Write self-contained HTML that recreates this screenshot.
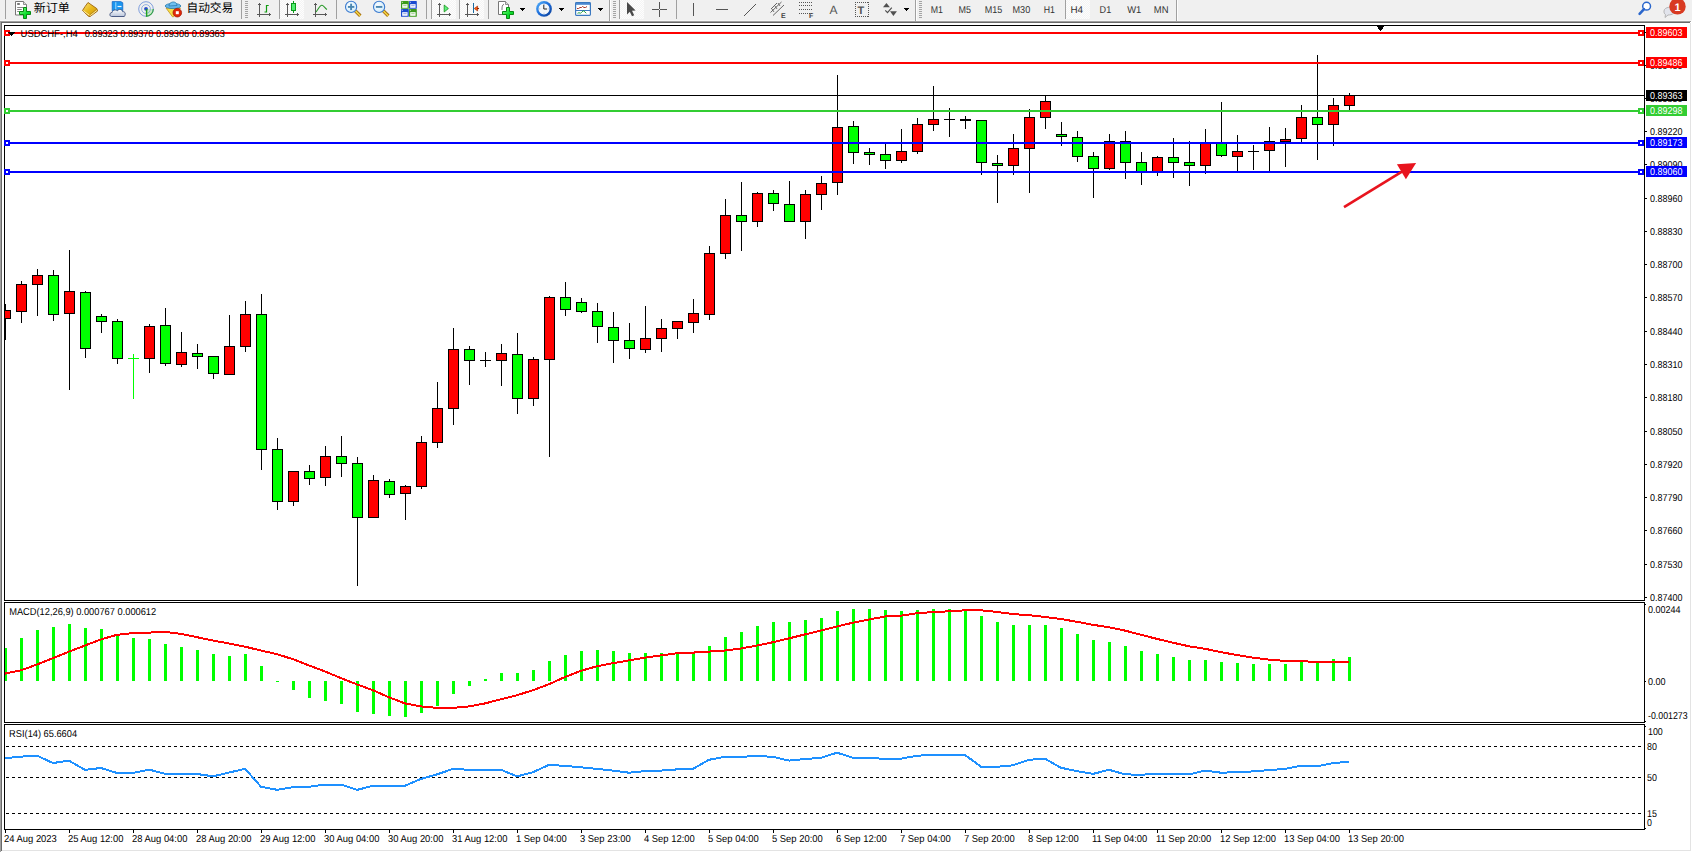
<!DOCTYPE html>
<html><head><meta charset="utf-8"><title>MetaTrader USDCHF H4</title>
<style>
html,body{margin:0;padding:0;width:1692px;height:852px;overflow:hidden;background:#fff}
svg{display:block}
text{font-family:"Liberation Sans","Noto Sans CJK SC",sans-serif;text-rendering:geometricPrecision}
.cjk{font-family:"Liberation Sans","Noto Sans CJK SC",sans-serif}
</style></head><body>
<svg width="1692" height="852" viewBox="0 0 1692 852" shape-rendering="crispEdges">
<rect x="0" y="0" width="1692" height="852" fill="#ffffff"/>
<rect x="0" y="0" width="1692" height="21" fill="#f0f0f0"/>
<rect x="0" y="20" width="1692" height="1" fill="#f7f7f7"/>
<rect x="0" y="21" width="1691" height="1" fill="#a0a0a0"/>
<rect x="0" y="22" width="1690" height="1" fill="#696969"/>
<rect x="0" y="21" width="1" height="831" fill="#a0a0a0"/>
<rect x="1" y="22" width="1" height="829" fill="#696969"/>
<rect x="1690" y="23" width="1" height="828" fill="#e3e3e3"/>
<rect x="2" y="850" width="1689" height="1" fill="#e3e3e3"/>
<defs><clipPath id="cm"><rect x="5" y="26" width="1639" height="574"/></clipPath><clipPath id="cd"><rect x="5" y="603" width="1639" height="119"/></clipPath><clipPath id="cr"><rect x="5" y="725" width="1639" height="104"/></clipPath></defs>
<g clip-path="url(#cm)">
<rect x="5" y="304" width="1" height="36" fill="#000"/>
<rect x="0" y="310" width="11" height="9" fill="#000"/>
<rect x="1" y="311" width="9" height="7" fill="#ff0000"/>
<rect x="21" y="281" width="1" height="42" fill="#000"/>
<rect x="16" y="284" width="11" height="28" fill="#000"/>
<rect x="17" y="285" width="9" height="26" fill="#ff0000"/>
<rect x="37" y="269" width="1" height="47" fill="#000"/>
<rect x="32" y="275" width="11" height="10" fill="#000"/>
<rect x="33" y="276" width="9" height="8" fill="#ff0000"/>
<rect x="53" y="270" width="1" height="51" fill="#000"/>
<rect x="48" y="275" width="11" height="40" fill="#000"/>
<rect x="49" y="276" width="9" height="38" fill="#00ff00"/>
<rect x="69" y="250" width="1" height="140" fill="#000"/>
<rect x="64" y="291" width="11" height="23" fill="#000"/>
<rect x="65" y="292" width="9" height="21" fill="#ff0000"/>
<rect x="85" y="291" width="1" height="67" fill="#000"/>
<rect x="80" y="292" width="11" height="57" fill="#000"/>
<rect x="81" y="293" width="9" height="55" fill="#00ff00"/>
<rect x="101" y="314" width="1" height="19" fill="#000"/>
<rect x="96" y="316" width="11" height="6" fill="#000"/>
<rect x="97" y="317" width="9" height="4" fill="#00ff00"/>
<rect x="117" y="319" width="1" height="45" fill="#000"/>
<rect x="112" y="321" width="11" height="38" fill="#000"/>
<rect x="113" y="322" width="9" height="36" fill="#00ff00"/>
<rect x="133" y="354" width="1" height="45" fill="#00ff00"/>
<rect x="128" y="358" width="11" height="1" fill="#00ff00"/>
<rect x="149" y="324" width="1" height="49" fill="#000"/>
<rect x="144" y="326" width="11" height="33" fill="#000"/>
<rect x="145" y="327" width="9" height="31" fill="#ff0000"/>
<rect x="165" y="308" width="1" height="58" fill="#000"/>
<rect x="160" y="325" width="11" height="39" fill="#000"/>
<rect x="161" y="326" width="9" height="37" fill="#00ff00"/>
<rect x="181" y="332" width="1" height="35" fill="#000"/>
<rect x="176" y="352" width="11" height="13" fill="#000"/>
<rect x="177" y="353" width="9" height="11" fill="#ff0000"/>
<rect x="197" y="344" width="1" height="25" fill="#000"/>
<rect x="192" y="353" width="11" height="4" fill="#000"/>
<rect x="193" y="354" width="9" height="2" fill="#00ff00"/>
<rect x="213" y="356" width="1" height="23" fill="#000"/>
<rect x="208" y="356" width="11" height="18" fill="#000"/>
<rect x="209" y="357" width="9" height="16" fill="#00ff00"/>
<rect x="229" y="315" width="1" height="59" fill="#000"/>
<rect x="224" y="346" width="11" height="29" fill="#000"/>
<rect x="225" y="347" width="9" height="27" fill="#ff0000"/>
<rect x="245" y="301" width="1" height="51" fill="#000"/>
<rect x="240" y="314" width="11" height="33" fill="#000"/>
<rect x="241" y="315" width="9" height="31" fill="#ff0000"/>
<rect x="261" y="294" width="1" height="176" fill="#000"/>
<rect x="256" y="314" width="11" height="136" fill="#000"/>
<rect x="257" y="315" width="9" height="134" fill="#00ff00"/>
<rect x="277" y="438" width="1" height="72" fill="#000"/>
<rect x="272" y="449" width="11" height="53" fill="#000"/>
<rect x="273" y="450" width="9" height="51" fill="#00ff00"/>
<rect x="293" y="471" width="1" height="35" fill="#000"/>
<rect x="288" y="471" width="11" height="31" fill="#000"/>
<rect x="289" y="472" width="9" height="29" fill="#ff0000"/>
<rect x="309" y="465" width="1" height="20" fill="#000"/>
<rect x="304" y="471" width="11" height="8" fill="#000"/>
<rect x="305" y="472" width="9" height="6" fill="#00ff00"/>
<rect x="325" y="446" width="1" height="40" fill="#000"/>
<rect x="320" y="456" width="11" height="22" fill="#000"/>
<rect x="321" y="457" width="9" height="20" fill="#ff0000"/>
<rect x="341" y="436" width="1" height="41" fill="#000"/>
<rect x="336" y="456" width="11" height="8" fill="#000"/>
<rect x="337" y="457" width="9" height="6" fill="#00ff00"/>
<rect x="357" y="457" width="1" height="129" fill="#000"/>
<rect x="352" y="463" width="11" height="55" fill="#000"/>
<rect x="353" y="464" width="9" height="53" fill="#00ff00"/>
<rect x="373" y="475" width="1" height="42" fill="#000"/>
<rect x="368" y="480" width="11" height="38" fill="#000"/>
<rect x="369" y="481" width="9" height="36" fill="#ff0000"/>
<rect x="389" y="479" width="1" height="19" fill="#000"/>
<rect x="384" y="481" width="11" height="14" fill="#000"/>
<rect x="385" y="482" width="9" height="12" fill="#00ff00"/>
<rect x="405" y="485" width="1" height="35" fill="#000"/>
<rect x="400" y="486" width="11" height="8" fill="#000"/>
<rect x="401" y="487" width="9" height="6" fill="#ff0000"/>
<rect x="421" y="436" width="1" height="53" fill="#000"/>
<rect x="416" y="442" width="11" height="45" fill="#000"/>
<rect x="417" y="443" width="9" height="43" fill="#ff0000"/>
<rect x="437" y="382" width="1" height="66" fill="#000"/>
<rect x="432" y="408" width="11" height="35" fill="#000"/>
<rect x="433" y="409" width="9" height="33" fill="#ff0000"/>
<rect x="453" y="328" width="1" height="97" fill="#000"/>
<rect x="448" y="349" width="11" height="60" fill="#000"/>
<rect x="449" y="350" width="9" height="58" fill="#ff0000"/>
<rect x="469" y="346" width="1" height="39" fill="#000"/>
<rect x="464" y="349" width="11" height="12" fill="#000"/>
<rect x="465" y="350" width="9" height="10" fill="#00ff00"/>
<rect x="485" y="352" width="1" height="15" fill="#000"/>
<rect x="480" y="360" width="11" height="1" fill="#000"/>
<rect x="501" y="344" width="1" height="42" fill="#000"/>
<rect x="496" y="353" width="11" height="8" fill="#000"/>
<rect x="497" y="354" width="9" height="6" fill="#ff0000"/>
<rect x="517" y="333" width="1" height="81" fill="#000"/>
<rect x="512" y="354" width="11" height="45" fill="#000"/>
<rect x="513" y="355" width="9" height="43" fill="#00ff00"/>
<rect x="533" y="357" width="1" height="49" fill="#000"/>
<rect x="528" y="359" width="11" height="40" fill="#000"/>
<rect x="529" y="360" width="9" height="38" fill="#ff0000"/>
<rect x="549" y="296" width="1" height="161" fill="#000"/>
<rect x="544" y="297" width="11" height="63" fill="#000"/>
<rect x="545" y="298" width="9" height="61" fill="#ff0000"/>
<rect x="565" y="282" width="1" height="34" fill="#000"/>
<rect x="560" y="297" width="11" height="13" fill="#000"/>
<rect x="561" y="298" width="9" height="11" fill="#00ff00"/>
<rect x="581" y="298" width="1" height="15" fill="#000"/>
<rect x="576" y="302" width="11" height="10" fill="#000"/>
<rect x="577" y="303" width="9" height="8" fill="#00ff00"/>
<rect x="597" y="303" width="1" height="40" fill="#000"/>
<rect x="592" y="311" width="11" height="16" fill="#000"/>
<rect x="593" y="312" width="9" height="14" fill="#00ff00"/>
<rect x="613" y="312" width="1" height="51" fill="#000"/>
<rect x="608" y="327" width="11" height="14" fill="#000"/>
<rect x="609" y="328" width="9" height="12" fill="#00ff00"/>
<rect x="629" y="323" width="1" height="36" fill="#000"/>
<rect x="624" y="340" width="11" height="9" fill="#000"/>
<rect x="625" y="341" width="9" height="7" fill="#00ff00"/>
<rect x="645" y="306" width="1" height="47" fill="#000"/>
<rect x="640" y="338" width="11" height="12" fill="#000"/>
<rect x="641" y="339" width="9" height="10" fill="#ff0000"/>
<rect x="661" y="319" width="1" height="33" fill="#000"/>
<rect x="656" y="328" width="11" height="11" fill="#000"/>
<rect x="657" y="329" width="9" height="9" fill="#ff0000"/>
<rect x="677" y="321" width="1" height="18" fill="#000"/>
<rect x="672" y="321" width="11" height="8" fill="#000"/>
<rect x="673" y="322" width="9" height="6" fill="#ff0000"/>
<rect x="693" y="299" width="1" height="34" fill="#000"/>
<rect x="688" y="313" width="11" height="10" fill="#000"/>
<rect x="689" y="314" width="9" height="8" fill="#ff0000"/>
<rect x="709" y="246" width="1" height="74" fill="#000"/>
<rect x="704" y="253" width="11" height="62" fill="#000"/>
<rect x="705" y="254" width="9" height="60" fill="#ff0000"/>
<rect x="725" y="199" width="1" height="60" fill="#000"/>
<rect x="720" y="215" width="11" height="39" fill="#000"/>
<rect x="721" y="216" width="9" height="37" fill="#ff0000"/>
<rect x="741" y="182" width="1" height="69" fill="#000"/>
<rect x="736" y="215" width="11" height="7" fill="#000"/>
<rect x="737" y="216" width="9" height="5" fill="#00ff00"/>
<rect x="757" y="192" width="1" height="35" fill="#000"/>
<rect x="752" y="193" width="11" height="29" fill="#000"/>
<rect x="753" y="194" width="9" height="27" fill="#ff0000"/>
<rect x="773" y="190" width="1" height="21" fill="#000"/>
<rect x="768" y="193" width="11" height="11" fill="#000"/>
<rect x="769" y="194" width="9" height="9" fill="#00ff00"/>
<rect x="789" y="181" width="1" height="41" fill="#000"/>
<rect x="784" y="204" width="11" height="18" fill="#000"/>
<rect x="785" y="205" width="9" height="16" fill="#00ff00"/>
<rect x="805" y="190" width="1" height="49" fill="#000"/>
<rect x="800" y="194" width="11" height="28" fill="#000"/>
<rect x="801" y="195" width="9" height="26" fill="#ff0000"/>
<rect x="821" y="176" width="1" height="34" fill="#000"/>
<rect x="816" y="183" width="11" height="12" fill="#000"/>
<rect x="817" y="184" width="9" height="10" fill="#ff0000"/>
<rect x="837" y="75" width="1" height="120" fill="#000"/>
<rect x="832" y="127" width="11" height="56" fill="#000"/>
<rect x="833" y="128" width="9" height="54" fill="#ff0000"/>
<rect x="853" y="121" width="1" height="43" fill="#000"/>
<rect x="848" y="126" width="11" height="27" fill="#000"/>
<rect x="849" y="127" width="9" height="25" fill="#00ff00"/>
<rect x="869" y="148" width="1" height="17" fill="#000"/>
<rect x="864" y="152" width="11" height="3" fill="#000"/>
<rect x="865" y="153" width="9" height="1" fill="#00ff00"/>
<rect x="885" y="144" width="1" height="25" fill="#000"/>
<rect x="880" y="154" width="11" height="7" fill="#000"/>
<rect x="881" y="155" width="9" height="5" fill="#00ff00"/>
<rect x="901" y="129" width="1" height="34" fill="#000"/>
<rect x="896" y="151" width="11" height="10" fill="#000"/>
<rect x="897" y="152" width="9" height="8" fill="#ff0000"/>
<rect x="917" y="118" width="1" height="36" fill="#000"/>
<rect x="912" y="124" width="11" height="28" fill="#000"/>
<rect x="913" y="125" width="9" height="26" fill="#ff0000"/>
<rect x="933" y="86" width="1" height="45" fill="#000"/>
<rect x="928" y="119" width="11" height="6" fill="#000"/>
<rect x="929" y="120" width="9" height="4" fill="#ff0000"/>
<rect x="949" y="108" width="1" height="29" fill="#000"/>
<rect x="944" y="119" width="11" height="1" fill="#000"/>
<rect x="965" y="116" width="1" height="13" fill="#000"/>
<rect x="960" y="119" width="11" height="2" fill="#000"/>
<rect x="981" y="120" width="1" height="55" fill="#000"/>
<rect x="976" y="120" width="11" height="43" fill="#000"/>
<rect x="977" y="121" width="9" height="41" fill="#00ff00"/>
<rect x="997" y="155" width="1" height="48" fill="#000"/>
<rect x="992" y="163" width="11" height="3" fill="#000"/>
<rect x="993" y="164" width="9" height="1" fill="#00ff00"/>
<rect x="1013" y="134" width="1" height="41" fill="#000"/>
<rect x="1008" y="148" width="11" height="18" fill="#000"/>
<rect x="1009" y="149" width="9" height="16" fill="#ff0000"/>
<rect x="1029" y="109" width="1" height="84" fill="#000"/>
<rect x="1024" y="117" width="11" height="32" fill="#000"/>
<rect x="1025" y="118" width="9" height="30" fill="#ff0000"/>
<rect x="1045" y="96" width="1" height="33" fill="#000"/>
<rect x="1040" y="101" width="11" height="17" fill="#000"/>
<rect x="1041" y="102" width="9" height="15" fill="#ff0000"/>
<rect x="1061" y="122" width="1" height="24" fill="#000"/>
<rect x="1056" y="134" width="11" height="3" fill="#000"/>
<rect x="1057" y="135" width="9" height="1" fill="#00ff00"/>
<rect x="1077" y="131" width="1" height="31" fill="#000"/>
<rect x="1072" y="137" width="11" height="20" fill="#000"/>
<rect x="1073" y="138" width="9" height="18" fill="#00ff00"/>
<rect x="1093" y="152" width="1" height="46" fill="#000"/>
<rect x="1088" y="156" width="11" height="13" fill="#000"/>
<rect x="1089" y="157" width="9" height="11" fill="#00ff00"/>
<rect x="1109" y="134" width="1" height="36" fill="#000"/>
<rect x="1104" y="141" width="11" height="28" fill="#000"/>
<rect x="1105" y="142" width="9" height="26" fill="#ff0000"/>
<rect x="1125" y="131" width="1" height="48" fill="#000"/>
<rect x="1120" y="141" width="11" height="22" fill="#000"/>
<rect x="1121" y="142" width="9" height="20" fill="#00ff00"/>
<rect x="1141" y="152" width="1" height="33" fill="#000"/>
<rect x="1136" y="162" width="11" height="10" fill="#000"/>
<rect x="1137" y="163" width="9" height="8" fill="#00ff00"/>
<rect x="1157" y="156" width="1" height="20" fill="#000"/>
<rect x="1152" y="157" width="11" height="15" fill="#000"/>
<rect x="1153" y="158" width="9" height="13" fill="#ff0000"/>
<rect x="1173" y="138" width="1" height="40" fill="#000"/>
<rect x="1168" y="157" width="11" height="6" fill="#000"/>
<rect x="1169" y="158" width="9" height="4" fill="#00ff00"/>
<rect x="1189" y="141" width="1" height="45" fill="#000"/>
<rect x="1184" y="162" width="11" height="4" fill="#000"/>
<rect x="1185" y="163" width="9" height="2" fill="#00ff00"/>
<rect x="1205" y="129" width="1" height="45" fill="#000"/>
<rect x="1200" y="143" width="11" height="23" fill="#000"/>
<rect x="1201" y="144" width="9" height="21" fill="#ff0000"/>
<rect x="1221" y="102" width="1" height="55" fill="#000"/>
<rect x="1216" y="143" width="11" height="13" fill="#000"/>
<rect x="1217" y="144" width="9" height="11" fill="#00ff00"/>
<rect x="1237" y="135" width="1" height="36" fill="#000"/>
<rect x="1232" y="151" width="11" height="6" fill="#000"/>
<rect x="1233" y="152" width="9" height="4" fill="#ff0000"/>
<rect x="1253" y="145" width="1" height="25" fill="#000"/>
<rect x="1248" y="151" width="11" height="1" fill="#000"/>
<rect x="1269" y="127" width="1" height="44" fill="#000"/>
<rect x="1264" y="141" width="11" height="10" fill="#000"/>
<rect x="1265" y="142" width="9" height="8" fill="#ff0000"/>
<rect x="1285" y="128" width="1" height="39" fill="#000"/>
<rect x="1280" y="139" width="11" height="3" fill="#000"/>
<rect x="1281" y="140" width="9" height="1" fill="#ff0000"/>
<rect x="1301" y="105" width="1" height="37" fill="#000"/>
<rect x="1296" y="117" width="11" height="22" fill="#000"/>
<rect x="1297" y="118" width="9" height="20" fill="#ff0000"/>
<rect x="1317" y="55" width="1" height="105" fill="#000"/>
<rect x="1312" y="117" width="11" height="8" fill="#000"/>
<rect x="1313" y="118" width="9" height="6" fill="#00ff00"/>
<rect x="1333" y="98" width="1" height="48" fill="#000"/>
<rect x="1328" y="105" width="11" height="20" fill="#000"/>
<rect x="1329" y="106" width="9" height="18" fill="#ff0000"/>
<rect x="1349" y="93" width="1" height="17" fill="#000"/>
<rect x="1344" y="95" width="11" height="11" fill="#000"/>
<rect x="1345" y="96" width="9" height="9" fill="#ff0000"/>
<rect x="5" y="32" width="1639" height="2" fill="#ff0000"/>
<rect x="5" y="62" width="1639" height="2" fill="#ff0000"/>
<rect x="5" y="95" width="1639" height="1" fill="#000000"/>
<rect x="5" y="110" width="1639" height="2" fill="#32cd32"/>
<rect x="5" y="142" width="1639" height="2" fill="#0000ff"/>
<rect x="5" y="171" width="1639" height="2" fill="#0000ff"/>
</g>
<g clip-path="url(#cd)">
<rect x="4" y="648" width="3" height="33" fill="#00ff00"/>
<rect x="20" y="638" width="3" height="43" fill="#00ff00"/>
<rect x="36" y="630" width="3" height="51" fill="#00ff00"/>
<rect x="52" y="627" width="3" height="54" fill="#00ff00"/>
<rect x="68" y="624" width="3" height="57" fill="#00ff00"/>
<rect x="84" y="628" width="3" height="53" fill="#00ff00"/>
<rect x="100" y="629" width="3" height="52" fill="#00ff00"/>
<rect x="116" y="634" width="3" height="47" fill="#00ff00"/>
<rect x="132" y="638" width="3" height="43" fill="#00ff00"/>
<rect x="148" y="639" width="3" height="42" fill="#00ff00"/>
<rect x="164" y="644" width="3" height="37" fill="#00ff00"/>
<rect x="180" y="647" width="3" height="34" fill="#00ff00"/>
<rect x="196" y="650" width="3" height="31" fill="#00ff00"/>
<rect x="212" y="654" width="3" height="27" fill="#00ff00"/>
<rect x="228" y="656" width="3" height="25" fill="#00ff00"/>
<rect x="244" y="654" width="3" height="27" fill="#00ff00"/>
<rect x="260" y="666" width="3" height="15" fill="#00ff00"/>
<rect x="276" y="681" width="3" height="1" fill="#00ff00"/>
<rect x="292" y="681" width="3" height="9" fill="#00ff00"/>
<rect x="308" y="681" width="3" height="17" fill="#00ff00"/>
<rect x="324" y="681" width="3" height="20" fill="#00ff00"/>
<rect x="340" y="681" width="3" height="23" fill="#00ff00"/>
<rect x="356" y="681" width="3" height="31" fill="#00ff00"/>
<rect x="372" y="681" width="3" height="33" fill="#00ff00"/>
<rect x="388" y="681" width="3" height="35" fill="#00ff00"/>
<rect x="404" y="681" width="3" height="36" fill="#00ff00"/>
<rect x="420" y="681" width="3" height="32" fill="#00ff00"/>
<rect x="436" y="681" width="3" height="25" fill="#00ff00"/>
<rect x="452" y="681" width="3" height="13" fill="#00ff00"/>
<rect x="468" y="681" width="3" height="5" fill="#00ff00"/>
<rect x="484" y="679" width="3" height="2" fill="#00ff00"/>
<rect x="500" y="673" width="3" height="8" fill="#00ff00"/>
<rect x="516" y="673" width="3" height="8" fill="#00ff00"/>
<rect x="532" y="670" width="3" height="11" fill="#00ff00"/>
<rect x="548" y="661" width="3" height="20" fill="#00ff00"/>
<rect x="564" y="655" width="3" height="26" fill="#00ff00"/>
<rect x="580" y="651" width="3" height="30" fill="#00ff00"/>
<rect x="596" y="650" width="3" height="31" fill="#00ff00"/>
<rect x="612" y="651" width="3" height="30" fill="#00ff00"/>
<rect x="628" y="653" width="3" height="28" fill="#00ff00"/>
<rect x="644" y="653" width="3" height="28" fill="#00ff00"/>
<rect x="660" y="653" width="3" height="28" fill="#00ff00"/>
<rect x="676" y="653" width="3" height="28" fill="#00ff00"/>
<rect x="692" y="653" width="3" height="28" fill="#00ff00"/>
<rect x="708" y="646" width="3" height="35" fill="#00ff00"/>
<rect x="724" y="637" width="3" height="44" fill="#00ff00"/>
<rect x="740" y="632" width="3" height="49" fill="#00ff00"/>
<rect x="756" y="626" width="3" height="55" fill="#00ff00"/>
<rect x="772" y="622" width="3" height="59" fill="#00ff00"/>
<rect x="788" y="622" width="3" height="59" fill="#00ff00"/>
<rect x="804" y="620" width="3" height="61" fill="#00ff00"/>
<rect x="820" y="618" width="3" height="63" fill="#00ff00"/>
<rect x="836" y="611" width="3" height="70" fill="#00ff00"/>
<rect x="852" y="609" width="3" height="72" fill="#00ff00"/>
<rect x="868" y="609" width="3" height="72" fill="#00ff00"/>
<rect x="884" y="610" width="3" height="71" fill="#00ff00"/>
<rect x="900" y="611" width="3" height="70" fill="#00ff00"/>
<rect x="916" y="610" width="3" height="71" fill="#00ff00"/>
<rect x="932" y="609" width="3" height="72" fill="#00ff00"/>
<rect x="948" y="609" width="3" height="72" fill="#00ff00"/>
<rect x="964" y="611" width="3" height="70" fill="#00ff00"/>
<rect x="980" y="616" width="3" height="65" fill="#00ff00"/>
<rect x="996" y="622" width="3" height="59" fill="#00ff00"/>
<rect x="1012" y="625" width="3" height="56" fill="#00ff00"/>
<rect x="1028" y="625" width="3" height="56" fill="#00ff00"/>
<rect x="1044" y="625" width="3" height="56" fill="#00ff00"/>
<rect x="1060" y="628" width="3" height="53" fill="#00ff00"/>
<rect x="1076" y="634" width="3" height="47" fill="#00ff00"/>
<rect x="1092" y="640" width="3" height="41" fill="#00ff00"/>
<rect x="1108" y="642" width="3" height="39" fill="#00ff00"/>
<rect x="1124" y="646" width="3" height="35" fill="#00ff00"/>
<rect x="1140" y="651" width="3" height="30" fill="#00ff00"/>
<rect x="1156" y="654" width="3" height="27" fill="#00ff00"/>
<rect x="1172" y="657" width="3" height="24" fill="#00ff00"/>
<rect x="1188" y="660" width="3" height="21" fill="#00ff00"/>
<rect x="1204" y="660" width="3" height="21" fill="#00ff00"/>
<rect x="1220" y="662" width="3" height="19" fill="#00ff00"/>
<rect x="1236" y="663" width="3" height="18" fill="#00ff00"/>
<rect x="1252" y="664" width="3" height="17" fill="#00ff00"/>
<rect x="1268" y="664" width="3" height="17" fill="#00ff00"/>
<rect x="1284" y="664" width="3" height="17" fill="#00ff00"/>
<rect x="1300" y="662" width="3" height="19" fill="#00ff00"/>
<rect x="1316" y="663" width="3" height="18" fill="#00ff00"/>
<rect x="1332" y="659" width="3" height="22" fill="#00ff00"/>
<rect x="1348" y="657" width="3" height="24" fill="#00ff00"/>
<polyline points="5,673.6 21,670.3 37,664.5 53,658.2 69,651.6 85,645.5 101,639.4 117,634.8 133,633.1 149,632.6 165,631.9 181,633.9 197,637.2 213,640.5 229,643.5 245,646.7 261,650.5 277,654.2 293,659.2 309,665.4 325,671.5 341,678.1 357,684.4 373,690.2 389,697.3 405,703.4 421,706.4 437,707.9 453,707.9 469,706.4 485,703.4 501,699.3 517,695.2 533,690.2 549,684.2 565,677.0 581,670.8 597,666.2 613,663.2 629,660.4 645,657.6 661,655.4 677,653.3 693,652.6 709,651.6 725,650.5 741,648.5 757,645.5 773,642.2 789,638.4 805,634.4 821,630.6 837,626.5 853,622.7 869,619.5 885,616.5 901,615.7 917,613.2 933,612.1 949,611.3 965,610.3 981,610.3 997,611.9 1013,614.1 1029,615.2 1045,617.0 1061,619.0 1077,621.8 1093,624.8 1109,627.3 1125,630.6 1141,634.8 1157,638.9 1173,642.7 1189,646.3 1205,648.8 1221,652.1 1237,655.1 1253,657.6 1269,659.6 1285,660.9 1301,661.2 1317,661.9 1333,661.9 1349,661.9" fill="none" stroke="#ff0000" stroke-width="2" stroke-linejoin="round"/>
</g>
<g clip-path="url(#cr)">
<line x1="6" y1="746.5" x2="1644" y2="746.5" stroke="#000" stroke-width="1" stroke-dasharray="3 3"/>
<line x1="6" y1="777.5" x2="1644" y2="777.5" stroke="#000" stroke-width="1" stroke-dasharray="3 3"/>
<line x1="6" y1="813.5" x2="1644" y2="813.5" stroke="#000" stroke-width="1" stroke-dasharray="3 3"/>
<polyline points="5,758.2 21,756.6 37,755.7 53,763.0 69,760.7 85,769.8 101,768.0 117,773.0 133,773.0 149,769.6 165,773.8 181,773.8 197,774.0 213,776.3 229,772.6 245,768.8 261,786.7 277,789.8 293,787.1 309,786.8 325,784.6 341,784.6 357,789.9 373,785.8 389,785.8 405,785.8 421,778.9 437,774.4 453,768.9 469,769.8 485,769.8 501,769.8 517,776.4 533,772.2 549,764.8 565,765.9 581,767.3 597,768.9 613,770.6 629,772.7 645,771.1 661,770.6 677,769.4 693,768.9 709,759.8 725,756.8 741,756.8 757,756.0 773,756.8 789,760.6 805,759.0 821,757.8 837,752.7 853,757.8 869,758.2 885,758.7 901,758.7 917,755.7 933,754.9 949,754.9 965,754.9 981,766.8 997,766.8 1013,765.3 1029,759.8 1045,758.7 1061,767.8 1077,771.1 1093,773.9 1109,769.8 1125,774.4 1141,774.7 1157,773.9 1173,774.2 1189,774.4 1205,770.6 1221,772.7 1237,772.2 1253,771.4 1269,770.1 1285,768.9 1301,765.8 1317,766.4 1333,763.1 1349,761.8" fill="none" stroke="#1e90ff" stroke-width="2" stroke-linejoin="round"/>
</g>
<rect x="4" y="25" width="1641" height="1" fill="#000"/>
<rect x="4" y="600" width="1641" height="1" fill="#000"/>
<rect x="4" y="25" width="1" height="576" fill="#000"/>
<rect x="1644" y="25" width="1" height="576" fill="#000"/>
<rect x="4" y="602" width="1641" height="1" fill="#000"/>
<rect x="4" y="722" width="1641" height="1" fill="#000"/>
<rect x="4" y="602" width="1" height="121" fill="#000"/>
<rect x="1644" y="602" width="1" height="121" fill="#000"/>
<rect x="4" y="724" width="1641" height="1" fill="#000"/>
<rect x="4" y="829" width="1641" height="1" fill="#000"/>
<rect x="4" y="724" width="1" height="106" fill="#000"/>
<rect x="1644" y="724" width="1" height="106" fill="#000"/>
<rect x="4" y="30" width="6" height="6" fill="#ff0000"/>
<rect x="6" y="32" width="2" height="2" fill="#ffffff"/>
<rect x="1638" y="30" width="6" height="6" fill="#ff0000"/>
<rect x="1640" y="32" width="2" height="2" fill="#ffffff"/>
<rect x="4" y="60" width="6" height="6" fill="#ff0000"/>
<rect x="6" y="62" width="2" height="2" fill="#ffffff"/>
<rect x="1638" y="60" width="6" height="6" fill="#ff0000"/>
<rect x="1640" y="62" width="2" height="2" fill="#ffffff"/>
<rect x="4" y="108" width="6" height="6" fill="#32cd32"/>
<rect x="6" y="110" width="2" height="2" fill="#ffffff"/>
<rect x="1638" y="108" width="6" height="6" fill="#32cd32"/>
<rect x="1640" y="110" width="2" height="2" fill="#ffffff"/>
<rect x="4" y="140" width="6" height="6" fill="#0000ff"/>
<rect x="6" y="142" width="2" height="2" fill="#ffffff"/>
<rect x="1638" y="140" width="6" height="6" fill="#0000ff"/>
<rect x="1640" y="142" width="2" height="2" fill="#ffffff"/>
<rect x="4" y="169" width="6" height="6" fill="#0000ff"/>
<rect x="6" y="171" width="2" height="2" fill="#ffffff"/>
<rect x="1638" y="169" width="6" height="6" fill="#0000ff"/>
<rect x="1640" y="171" width="2" height="2" fill="#ffffff"/>
<rect x="1645" y="32" width="2" height="1" fill="#000"/>
<text x="1650" y="36" font-size="10" fill="#000" textLength="32.4" lengthAdjust="spacingAndGlyphs">0.89610</text>
<rect x="1645" y="65" width="2" height="1" fill="#000"/>
<text x="1650" y="69" font-size="10" fill="#000" textLength="32.4" lengthAdjust="spacingAndGlyphs">0.89480</text>
<rect x="1645" y="98" width="2" height="1" fill="#000"/>
<text x="1650" y="102" font-size="10" fill="#000" textLength="32.4" lengthAdjust="spacingAndGlyphs">0.89350</text>
<rect x="1645" y="131" width="2" height="1" fill="#000"/>
<text x="1650" y="135" font-size="10" fill="#000" textLength="32.4" lengthAdjust="spacingAndGlyphs">0.89220</text>
<rect x="1645" y="164" width="2" height="1" fill="#000"/>
<text x="1650" y="168" font-size="10" fill="#000" textLength="32.4" lengthAdjust="spacingAndGlyphs">0.89090</text>
<rect x="1645" y="198" width="2" height="1" fill="#000"/>
<text x="1650" y="202" font-size="10" fill="#000" textLength="32.4" lengthAdjust="spacingAndGlyphs">0.88960</text>
<rect x="1645" y="231" width="2" height="1" fill="#000"/>
<text x="1650" y="235" font-size="10" fill="#000" textLength="32.4" lengthAdjust="spacingAndGlyphs">0.88830</text>
<rect x="1645" y="264" width="2" height="1" fill="#000"/>
<text x="1650" y="268" font-size="10" fill="#000" textLength="32.4" lengthAdjust="spacingAndGlyphs">0.88700</text>
<rect x="1645" y="297" width="2" height="1" fill="#000"/>
<text x="1650" y="301" font-size="10" fill="#000" textLength="32.4" lengthAdjust="spacingAndGlyphs">0.88570</text>
<rect x="1645" y="331" width="2" height="1" fill="#000"/>
<text x="1650" y="335" font-size="10" fill="#000" textLength="32.4" lengthAdjust="spacingAndGlyphs">0.88440</text>
<rect x="1645" y="364" width="2" height="1" fill="#000"/>
<text x="1650" y="368" font-size="10" fill="#000" textLength="32.4" lengthAdjust="spacingAndGlyphs">0.88310</text>
<rect x="1645" y="397" width="2" height="1" fill="#000"/>
<text x="1650" y="401" font-size="10" fill="#000" textLength="32.4" lengthAdjust="spacingAndGlyphs">0.88180</text>
<rect x="1645" y="431" width="2" height="1" fill="#000"/>
<text x="1650" y="435" font-size="10" fill="#000" textLength="32.4" lengthAdjust="spacingAndGlyphs">0.88050</text>
<rect x="1645" y="464" width="2" height="1" fill="#000"/>
<text x="1650" y="468" font-size="10" fill="#000" textLength="32.4" lengthAdjust="spacingAndGlyphs">0.87920</text>
<rect x="1645" y="497" width="2" height="1" fill="#000"/>
<text x="1650" y="501" font-size="10" fill="#000" textLength="32.4" lengthAdjust="spacingAndGlyphs">0.87790</text>
<rect x="1645" y="530" width="2" height="1" fill="#000"/>
<text x="1650" y="534" font-size="10" fill="#000" textLength="32.4" lengthAdjust="spacingAndGlyphs">0.87660</text>
<rect x="1645" y="564" width="2" height="1" fill="#000"/>
<text x="1650" y="568" font-size="10" fill="#000" textLength="32.4" lengthAdjust="spacingAndGlyphs">0.87530</text>
<rect x="1645" y="597" width="2" height="1" fill="#000"/>
<text x="1650" y="601" font-size="10" fill="#000" textLength="32.4" lengthAdjust="spacingAndGlyphs">0.87400</text>
<rect x="1646" y="27" width="41" height="11" fill="#ff0000"/>
<text x="1650" y="36" font-size="10" fill="#ffffff" textLength="32.4" lengthAdjust="spacingAndGlyphs">0.89603</text>
<rect x="1646" y="57" width="41" height="11" fill="#ff0000"/>
<text x="1650" y="66" font-size="10" fill="#ffffff" textLength="32.4" lengthAdjust="spacingAndGlyphs">0.89486</text>
<rect x="1646" y="90" width="41" height="11" fill="#000000"/>
<text x="1650" y="99" font-size="10" fill="#ffffff" textLength="32.4" lengthAdjust="spacingAndGlyphs">0.89363</text>
<rect x="1646" y="105" width="41" height="11" fill="#32cd32"/>
<text x="1650" y="114" font-size="10" fill="#ffffff" textLength="32.4" lengthAdjust="spacingAndGlyphs">0.89298</text>
<rect x="1646" y="137" width="41" height="11" fill="#0000ff"/>
<text x="1650" y="146" font-size="10" fill="#ffffff" textLength="32.4" lengthAdjust="spacingAndGlyphs">0.89173</text>
<rect x="1646" y="166" width="41" height="11" fill="#0000ff"/>
<text x="1650" y="175" font-size="10" fill="#ffffff" textLength="32.4" lengthAdjust="spacingAndGlyphs">0.89060</text>
<rect x="1645" y="604" width="1" height="1" fill="#000"/>
<text x="1648" y="613" font-size="10" fill="#000" textLength="32.6" lengthAdjust="spacingAndGlyphs">0.00244</text>
<rect x="1645" y="681" width="1" height="1" fill="#000"/>
<text x="1648" y="685" font-size="10" fill="#000" textLength="17.6" lengthAdjust="spacingAndGlyphs">0.00</text>
<rect x="1645" y="721" width="1" height="1" fill="#000"/>
<text x="1648" y="719" font-size="10" fill="#000" textLength="39.6" lengthAdjust="spacingAndGlyphs">-0.001273</text>
<rect x="1645" y="726" width="1" height="1" fill="#000"/>
<rect x="1645" y="828" width="1" height="1" fill="#000"/>
<text x="1648" y="735" font-size="10" fill="#000" textLength="14.8" lengthAdjust="spacingAndGlyphs">100</text>
<text x="1647" y="750" font-size="10" fill="#000" textLength="9.9" lengthAdjust="spacingAndGlyphs">80</text>
<text x="1647" y="781" font-size="10" fill="#000" textLength="9.9" lengthAdjust="spacingAndGlyphs">50</text>
<text x="1647" y="817" font-size="10" fill="#000" textLength="9.9" lengthAdjust="spacingAndGlyphs">15</text>
<text x="1647" y="826" font-size="10" fill="#000" textLength="4.9" lengthAdjust="spacingAndGlyphs">0</text>
<rect x="5" y="830" width="1" height="3" fill="#000"/>
<text x="4" y="842" font-size="10" fill="#000" textLength="52.8" lengthAdjust="spacingAndGlyphs">24 Aug 2023</text>
<rect x="69" y="830" width="1" height="3" fill="#000"/>
<text x="68" y="842" font-size="10" fill="#000" textLength="55.4" lengthAdjust="spacingAndGlyphs">25 Aug 12:00</text>
<rect x="133" y="830" width="1" height="3" fill="#000"/>
<text x="132" y="842" font-size="10" fill="#000" textLength="55.4" lengthAdjust="spacingAndGlyphs">28 Aug 04:00</text>
<rect x="197" y="830" width="1" height="3" fill="#000"/>
<text x="196" y="842" font-size="10" fill="#000" textLength="55.4" lengthAdjust="spacingAndGlyphs">28 Aug 20:00</text>
<rect x="261" y="830" width="1" height="3" fill="#000"/>
<text x="260" y="842" font-size="10" fill="#000" textLength="55.4" lengthAdjust="spacingAndGlyphs">29 Aug 12:00</text>
<rect x="325" y="830" width="1" height="3" fill="#000"/>
<text x="324" y="842" font-size="10" fill="#000" textLength="55.4" lengthAdjust="spacingAndGlyphs">30 Aug 04:00</text>
<rect x="389" y="830" width="1" height="3" fill="#000"/>
<text x="388" y="842" font-size="10" fill="#000" textLength="55.4" lengthAdjust="spacingAndGlyphs">30 Aug 20:00</text>
<rect x="453" y="830" width="1" height="3" fill="#000"/>
<text x="452" y="842" font-size="10" fill="#000" textLength="55.4" lengthAdjust="spacingAndGlyphs">31 Aug 12:00</text>
<rect x="517" y="830" width="1" height="3" fill="#000"/>
<text x="516" y="842" font-size="10" fill="#000" textLength="50.7" lengthAdjust="spacingAndGlyphs">1 Sep 04:00</text>
<rect x="581" y="830" width="1" height="3" fill="#000"/>
<text x="580" y="842" font-size="10" fill="#000" textLength="50.7" lengthAdjust="spacingAndGlyphs">3 Sep 23:00</text>
<rect x="645" y="830" width="1" height="3" fill="#000"/>
<text x="644" y="842" font-size="10" fill="#000" textLength="50.7" lengthAdjust="spacingAndGlyphs">4 Sep 12:00</text>
<rect x="709" y="830" width="1" height="3" fill="#000"/>
<text x="708" y="842" font-size="10" fill="#000" textLength="50.7" lengthAdjust="spacingAndGlyphs">5 Sep 04:00</text>
<rect x="773" y="830" width="1" height="3" fill="#000"/>
<text x="772" y="842" font-size="10" fill="#000" textLength="50.7" lengthAdjust="spacingAndGlyphs">5 Sep 20:00</text>
<rect x="837" y="830" width="1" height="3" fill="#000"/>
<text x="836" y="842" font-size="10" fill="#000" textLength="50.7" lengthAdjust="spacingAndGlyphs">6 Sep 12:00</text>
<rect x="901" y="830" width="1" height="3" fill="#000"/>
<text x="900" y="842" font-size="10" fill="#000" textLength="50.7" lengthAdjust="spacingAndGlyphs">7 Sep 04:00</text>
<rect x="965" y="830" width="1" height="3" fill="#000"/>
<text x="964" y="842" font-size="10" fill="#000" textLength="50.7" lengthAdjust="spacingAndGlyphs">7 Sep 20:00</text>
<rect x="1029" y="830" width="1" height="3" fill="#000"/>
<text x="1028" y="842" font-size="10" fill="#000" textLength="50.7" lengthAdjust="spacingAndGlyphs">8 Sep 12:00</text>
<rect x="1093" y="830" width="1" height="3" fill="#000"/>
<text x="1092" y="842" font-size="10" fill="#000" textLength="55.2" lengthAdjust="spacingAndGlyphs">11 Sep 04:00</text>
<rect x="1157" y="830" width="1" height="3" fill="#000"/>
<text x="1156" y="842" font-size="10" fill="#000" textLength="55.2" lengthAdjust="spacingAndGlyphs">11 Sep 20:00</text>
<rect x="1221" y="830" width="1" height="3" fill="#000"/>
<text x="1220" y="842" font-size="10" fill="#000" textLength="55.9" lengthAdjust="spacingAndGlyphs">12 Sep 12:00</text>
<rect x="1285" y="830" width="1" height="3" fill="#000"/>
<text x="1284" y="842" font-size="10" fill="#000" textLength="55.9" lengthAdjust="spacingAndGlyphs">13 Sep 04:00</text>
<rect x="1349" y="830" width="1" height="3" fill="#000"/>
<text x="1348" y="842" font-size="10" fill="#000" textLength="55.9" lengthAdjust="spacingAndGlyphs">13 Sep 20:00</text>
<text x="20.6" y="37" font-size="10" fill="#000" textLength="57.1" lengthAdjust="spacingAndGlyphs">USDCHF-,H4</text>
<text x="84.7" y="37" font-size="10" fill="#000" textLength="140.1" lengthAdjust="spacingAndGlyphs">0.89323 0.89370 0.89306 0.89363</text>
<text x="9.2" y="615" font-size="10" fill="#000" textLength="147.0" lengthAdjust="spacingAndGlyphs">MACD(12,26,9) 0.000767 0.000612</text>
<text x="9.1" y="737" font-size="10" fill="#000" textLength="68.0" lengthAdjust="spacingAndGlyphs">RSI(14) 65.6604</text>
<polygon points="8,32 15,32 11.5,36" fill="#000"/>
<polygon points="1375.5,25 1385.5,25 1380.5,31.2" fill="#000"/>
<g shape-rendering="geometricPrecision"><line x1="1344" y1="207.2" x2="1402" y2="171.6" stroke="#e8141e" stroke-width="2.6"/><polygon points="1396.9,164.2 1416.1,162.9 1405.9,179.3" fill="#e8141e"/></g>
<defs><pattern id="chk" width="2" height="2" patternUnits="userSpaceOnUse"><rect width="2" height="2" fill="#f4f4f4"/><rect width="1" height="1" fill="#fdfdfd"/><rect x="1" y="1" width="1" height="1" fill="#fdfdfd"/></pattern><linearGradient id="gplus" x1="0" y1="0" x2="1" y2="1"><stop offset="0" stop-color="#90ff90"/><stop offset="0.55" stop-color="#10e030"/><stop offset="1" stop-color="#00c020"/></linearGradient><linearGradient id="gold" x1="0" y1="0" x2="1" y2="1"><stop offset="0" stop-color="#fbe27a"/><stop offset="0.5" stop-color="#e8b818"/><stop offset="1" stop-color="#c89010"/></linearGradient><linearGradient id="cloud" x1="0" y1="0" x2="0" y2="1"><stop offset="0" stop-color="#ffffff"/><stop offset="1" stop-color="#b8c4da"/></linearGradient><linearGradient id="clk" x1="0" y1="0" x2="1" y2="1"><stop offset="0" stop-color="#5ab8ff"/><stop offset="0.5" stop-color="#1a6ad8"/><stop offset="1" stop-color="#0a3a90"/></linearGradient><radialGradient id="lens" cx="0.4" cy="0.4" r="0.7"><stop offset="0" stop-color="#ffffff"/><stop offset="1" stop-color="#c8e8fa"/></radialGradient></defs>
<rect x="280" y="0" width="24" height="19" fill="url(#chk)"/>
<rect x="432" y="0" width="24" height="19" fill="url(#chk)"/>
<rect x="460" y="0" width="24" height="19" fill="url(#chk)"/>
<rect x="620" y="0" width="24" height="19" fill="url(#chk)"/>
<rect x="1066" y="0" width="24" height="19" fill="url(#chk)"/>
<rect x="5" y="0" width="1" height="19" fill="#a0a0a0"/>
<rect x="241" y="0" width="1" height="19" fill="#a0a0a0"/>
<rect x="279" y="0" width="1" height="19" fill="#a0a0a0"/>
<rect x="336" y="0" width="1" height="19" fill="#a0a0a0"/>
<rect x="426" y="0" width="1" height="19" fill="#a0a0a0"/>
<rect x="431" y="0" width="1" height="19" fill="#a0a0a0"/>
<rect x="459" y="0" width="1" height="19" fill="#a0a0a0"/>
<rect x="488" y="0" width="1" height="19" fill="#a0a0a0"/>
<rect x="619" y="0" width="1" height="19" fill="#a0a0a0"/>
<rect x="676" y="0" width="1" height="19" fill="#a0a0a0"/>
<rect x="1065" y="0" width="1" height="19" fill="#a0a0a0"/>
<rect x="609" y="0" width="1" height="21" fill="#a0a0a0"/>
<rect x="610" y="0" width="1" height="21" fill="#fdfdfd"/>
<rect x="915" y="0" width="1" height="21" fill="#a0a0a0"/>
<rect x="916" y="0" width="1" height="21" fill="#fdfdfd"/>
<rect x="1176" y="0" width="1" height="21" fill="#a0a0a0"/>
<rect x="1177" y="0" width="1" height="21" fill="#fdfdfd"/>
<rect x="245" y="1" width="3" height="1" fill="#a4a4a4"/>
<rect x="245" y="3" width="3" height="1" fill="#a4a4a4"/>
<rect x="245" y="5" width="3" height="1" fill="#a4a4a4"/>
<rect x="245" y="7" width="3" height="1" fill="#a4a4a4"/>
<rect x="245" y="9" width="3" height="1" fill="#a4a4a4"/>
<rect x="245" y="11" width="3" height="1" fill="#a4a4a4"/>
<rect x="245" y="13" width="3" height="1" fill="#a4a4a4"/>
<rect x="245" y="15" width="3" height="1" fill="#a4a4a4"/>
<rect x="245" y="17" width="3" height="1" fill="#a4a4a4"/>
<rect x="613" y="1" width="3" height="1" fill="#a4a4a4"/>
<rect x="613" y="3" width="3" height="1" fill="#a4a4a4"/>
<rect x="613" y="5" width="3" height="1" fill="#a4a4a4"/>
<rect x="613" y="7" width="3" height="1" fill="#a4a4a4"/>
<rect x="613" y="9" width="3" height="1" fill="#a4a4a4"/>
<rect x="613" y="11" width="3" height="1" fill="#a4a4a4"/>
<rect x="613" y="13" width="3" height="1" fill="#a4a4a4"/>
<rect x="613" y="15" width="3" height="1" fill="#a4a4a4"/>
<rect x="613" y="17" width="3" height="1" fill="#a4a4a4"/>
<rect x="919" y="1" width="3" height="1" fill="#a4a4a4"/>
<rect x="919" y="3" width="3" height="1" fill="#a4a4a4"/>
<rect x="919" y="5" width="3" height="1" fill="#a4a4a4"/>
<rect x="919" y="7" width="3" height="1" fill="#a4a4a4"/>
<rect x="919" y="9" width="3" height="1" fill="#a4a4a4"/>
<rect x="919" y="11" width="3" height="1" fill="#a4a4a4"/>
<rect x="919" y="13" width="3" height="1" fill="#a4a4a4"/>
<rect x="919" y="15" width="3" height="1" fill="#a4a4a4"/>
<rect x="919" y="17" width="3" height="1" fill="#a4a4a4"/>
<g shape-rendering="geometricPrecision">
<path d="M15.5,1.5 h8 l3,3 v10.5 h-11 z" fill="#fff" stroke="#777" stroke-width="1"/>
<path d="M23.5,1.5 v3 h3" fill="#ddd" stroke="#777" stroke-width="0.8"/>
<rect x="17.2" y="3" width="2.6" height="2" fill="#777"/>
<path d="M17.2,7.5 h6.5 M17.2,9.5 h4.6 M17.2,11.5 h2" stroke="#777" stroke-width="0.9"/>
<path d="M23.5,7.5 h3 v4 h4 v3 h-4 v4 h-3 v-4 h-4 v-3 h4 z" fill="url(#gplus)" stroke="#078a12" stroke-width="1"/>
<text x="33.7" y="12" font-size="12" fill="#000" textLength="36.2" lengthAdjust="spacingAndGlyphs">新订单</text>
<path d="M82.5,10.5 C84,8 86,5 88,2.5 L96.8,8.6 L97.6,11 L90,16.6 L88.5,16.3 Z" fill="url(#gold)" stroke="#9a6410" stroke-width="0.9"/>
<path d="M83.5,11 L89.5,15.2 M90.3,15.6 L96.8,10.4" fill="none" stroke="#fff2b0" stroke-width="0.9"/>
<path d="M89.5,15 L96.5,9.2" fill="none" stroke="#b08018" stroke-width="0.7"/>
<path d="M112.2,1.6 h8.6 l2,1.2 v8 h-10.6 z" fill="#1a96f0" stroke="#1060c0" stroke-width="0.7"/>
<path d="M115.8,2.2 v8.4" stroke="#c8ecff" stroke-width="0.8"/>
<path d="M117.5,6.5 h4" stroke="#e8f6ff" stroke-width="1.2"/>
<path d="M111.5,16.5 c-2.2,0 -2.2,-4.2 0.6,-4 c0.3,-2.6 3.6,-3.4 5.2,-1.7 c1.5,-2.2 5,-1.6 5.4,0.9 c2.6,-0.4 3.3,2.6 1.6,4.8 z" fill="url(#cloud)" stroke="#3c4e7a" stroke-width="0.9"/>
<path d="M146,9 L146,16.5 A7.5,7.5 0 0 0 153.5,9 Z" fill="#c8ecc4"/>
<circle cx="146" cy="9" r="7.3" fill="none" stroke="#6c90d8" stroke-width="1" opacity="0.85"/>
<circle cx="146" cy="9" r="4.4" fill="none" stroke="#7ca0dc" stroke-width="1" opacity="0.8"/>
<path d="M146,9 m0,7.3 A7.3,7.3 0 0 0 153.3,9" fill="none" stroke="#30a040" stroke-width="1.1"/>
<circle cx="146" cy="8.8" r="1.9" fill="#2a50c8"/>
<path d="M146.6,9 v7.6" stroke="#20a020" stroke-width="1.4"/>
<path d="M166,8 L180.5,8 L173.5,16.8 L172.5,16.8 Z" fill="#f6de48" stroke="#c09018" stroke-width="0.8"/>
<ellipse cx="173" cy="6" rx="7.8" ry="2.6" fill="#62b4ea" stroke="#2a7cae" stroke-width="0.8"/>
<path d="M169,6 C169,1 177,0.5 177,5.5 Z" fill="#70c0f0" stroke="#2a7cae" stroke-width="0.8"/>
<circle cx="177.3" cy="12.7" r="4.3" fill="#e02808" stroke="#a01000" stroke-width="0.7"/>
<rect x="175.8" y="11.2" width="3" height="3" fill="#fff"/>
<text x="186.5" y="12" font-size="12" fill="#000" textLength="46.7" lengthAdjust="spacingAndGlyphs">自动交易</text>
</g>
<rect x="259" y="3" width="1" height="14" fill="#585858"/>
<rect x="257" y="14" width="14" height="1" fill="#585858"/>
<rect x="258" y="4" width="3" height="1" fill="#585858"/>
<rect x="269" y="13" width="1" height="3" fill="#585858"/>
<path d="M264.5,12 h2 v-6.5 h2.2" fill="none" stroke="#109a10" stroke-width="1.2" shape-rendering="geometricPrecision"/>
<rect x="287" y="3" width="1" height="14" fill="#585858"/>
<rect x="285" y="14" width="14" height="1" fill="#585858"/>
<rect x="286" y="4" width="3" height="1" fill="#585858"/>
<rect x="297" y="13" width="1" height="3" fill="#585858"/>
<rect x="293" y="1" width="1" height="12" fill="#0a9a1a"/>
<rect x="291.5" y="3.5" width="4" height="7" fill="#50ee70" stroke="#0a9a1a" stroke-width="1" shape-rendering="geometricPrecision"/>
<rect x="315" y="3" width="1" height="14" fill="#585858"/>
<rect x="313" y="14" width="14" height="1" fill="#585858"/>
<rect x="314" y="4" width="3" height="1" fill="#585858"/>
<rect x="325" y="13" width="1" height="3" fill="#585858"/>
<path d="M316,12 C318,9.5 320,5 322,5.3 C324,5.6 325,8.5 327,9.5" fill="none" stroke="#2a9a2a" stroke-width="1.1" shape-rendering="geometricPrecision"/>
<g shape-rendering="geometricPrecision">
<path d="M355.1,10.6 L360.3,15.8" stroke="#9a6008" stroke-width="3.4"/>
<path d="M355.1,10.6 L360.3,15.8" stroke="#f0d040" stroke-width="1.8"/>
<circle cx="351.1" cy="6.9" r="5.6" fill="url(#lens)" stroke="#3a7ad0" stroke-width="1.1"/>
<path d="M347.90000000000003,6.9 h6.4" stroke="#4a86b0" stroke-width="1.9"/>
<path d="M351.1,3.7 v6.4" stroke="#4a86b0" stroke-width="1.9"/>
<path d="M383.1,10.6 L388.3,15.8" stroke="#9a6008" stroke-width="3.4"/>
<path d="M383.1,10.6 L388.3,15.8" stroke="#f0d040" stroke-width="1.8"/>
<circle cx="379.1" cy="6.9" r="5.6" fill="url(#lens)" stroke="#3a7ad0" stroke-width="1.1"/>
<path d="M375.90000000000003,6.9 h6.4" stroke="#4a86b0" stroke-width="1.9"/>
<rect x="401" y="1" width="7.8" height="7.8" rx="0.6" fill="#3a9a1a"/>
<rect x="402.2" y="4.2" width="5.4" height="3.6" fill="#fff"/>
<rect x="403.2" y="5.2" width="3.4" height="1" fill="#3a9a1a" opacity="0.5"/>
<rect x="401.8" y="1.8" width="1" height="1" fill="#fff" opacity="0.8"/>
<rect x="409" y="1" width="7.8" height="7.8" rx="0.6" fill="#1a4ad0"/>
<rect x="410.2" y="4.2" width="5.4" height="3.6" fill="#fff"/>
<rect x="411.2" y="5.2" width="3.4" height="1" fill="#1a4ad0" opacity="0.5"/>
<rect x="409.8" y="1.8" width="1" height="1" fill="#fff" opacity="0.8"/>
<rect x="401" y="9" width="7.8" height="7.8" rx="0.6" fill="#1a4ad0"/>
<rect x="402.2" y="12.2" width="5.4" height="3.6" fill="#fff"/>
<rect x="403.2" y="13.2" width="3.4" height="1" fill="#1a4ad0" opacity="0.5"/>
<rect x="401.8" y="9.8" width="1" height="1" fill="#fff" opacity="0.8"/>
<rect x="409" y="9" width="7.8" height="7.8" rx="0.6" fill="#3a9a1a"/>
<rect x="410.2" y="12.2" width="5.4" height="3.6" fill="#fff"/>
<rect x="411.2" y="13.2" width="3.4" height="1" fill="#3a9a1a" opacity="0.5"/>
<rect x="409.8" y="9.8" width="1" height="1" fill="#fff" opacity="0.8"/>
</g>
<rect x="439" y="3" width="1" height="14" fill="#585858"/>
<rect x="437" y="14" width="14" height="1" fill="#585858"/>
<rect x="438" y="4" width="3" height="1" fill="#585858"/>
<rect x="449" y="13" width="1" height="3" fill="#585858"/>
<path d="M444.2,5 L448.4,8.5 L444.2,12 Z" fill="#60f080" stroke="#109010" stroke-width="0.8" shape-rendering="geometricPrecision"/>
<rect x="467" y="3" width="1" height="14" fill="#585858"/>
<rect x="465" y="14" width="14" height="1" fill="#585858"/>
<rect x="466" y="4" width="3" height="1" fill="#585858"/>
<rect x="477" y="13" width="1" height="3" fill="#585858"/>
<rect x="473" y="3" width="1" height="10" fill="#1a6aa0"/>
<path d="M474.3,8.5 L477.6,6 L477.6,11 Z" fill="#ff6010" stroke="#902000" stroke-width="0.6" shape-rendering="geometricPrecision"/>
<rect x="477" y="8" width="2" height="1" fill="#902000"/>
<g shape-rendering="geometricPrecision">
<path d="M498.5,1.5 h7 l3,3 v10 h-10 z" fill="#fff" stroke="#777"/>
<path d="M505.5,1.5 v3 h3" fill="#ddd" stroke="#777" stroke-width="0.8"/>
<path d="M502,10 c0,-3 0,-5 2,-6" fill="none" stroke="#444" stroke-width="0.7"/>
<path d="M506.5,7.5 h3 v4 h4 v3 h-4 v4 h-3 v-4 h-4 v-3 h4 z" fill="url(#gplus)" stroke="#078a12" stroke-width="1"/>
<circle cx="544" cy="8.9" r="7.9" fill="url(#clk)"/>
<circle cx="544" cy="8.9" r="5.5" fill="#f2f6fa"/>
<path d="M544,4.2 v0.8 M544,12.8 v0.8 M539.4,8.9 h0.8 M547.8,8.9 h0.8" stroke="#8a9ab0" stroke-width="0.8"/>
<path d="M543.8,4.8 v4.2 h3.2" fill="none" stroke="#222" stroke-width="1"/>
<rect x="575.6" y="2.6" width="14.8" height="12.8" rx="0.8" fill="#fff" stroke="#3a78c0" stroke-width="1.2"/>
<rect x="576" y="3" width="14" height="1.8" fill="#4a88d0"/>
<rect x="576" y="10" width="14" height="1" fill="#3a78c0"/>
<path d="M577,8.5 h1.5 l1.5,-1 h1.5 l1,-1 l1.5,1 h1.5 l1.5,-1" fill="none" stroke="#a02010" stroke-width="0.9"/>
<path d="M577.5,13.3 l1.5,-0.6 l1.5,0.6 l1.5,-1.5 l1.5,-1 l1.5,1.2 l1.3,1.3" fill="none" stroke="#109a30" stroke-width="0.9"/>
</g>
<path d="M520,8 h5.2 l-2.6,3 z" fill="#000"/>
<path d="M559,8 h5.2 l-2.6,3 z" fill="#000"/>
<path d="M598,8 h5.2 l-2.6,3 z" fill="#000"/>
<path d="M904,8 h5.2 l-2.6,3 z" fill="#000"/>
<g shape-rendering="geometricPrecision">
<path d="M627,2 L627,14.5 L629.8,11.8 L632,16.2 L634.2,15.2 L632,10.8 L635.6,10.6 Z" fill="#4a4a4a"/>
</g>
<rect x="652" y="9" width="15" height="1" fill="#555"/>
<rect x="659" y="2" width="1" height="15" fill="#555"/>
<rect x="659" y="9" width="1" height="1" fill="#f0f0f0"/>
<rect x="693" y="3" width="1" height="13" fill="#555"/>
<rect x="716" y="9" width="12" height="1" fill="#555"/>
<g shape-rendering="geometricPrecision">
<path d="M744,16 L756,4" stroke="#555" stroke-width="1"/>
<path d="M770.5,12.5 L781.5,2 M773,15.5 L784,5 M771,9 L777,3" stroke="#555" stroke-width="0.9"/>
<path d="M772,9 l2,3 M775,6 l2,3 M778,3 l2,3" stroke="#555" stroke-width="0.8"/>
</g>
<text x="781" y="17.5" font-size="7" font-weight="bold" fill="#444">E</text>
<rect x="799" y="2" width="1" height="1" fill="#555"/>
<rect x="801" y="2" width="1" height="1" fill="#555"/>
<rect x="803" y="2" width="1" height="1" fill="#555"/>
<rect x="805" y="2" width="1" height="1" fill="#555"/>
<rect x="807" y="2" width="1" height="1" fill="#555"/>
<rect x="809" y="2" width="1" height="1" fill="#555"/>
<rect x="811" y="2" width="1" height="1" fill="#555"/>
<rect x="799" y="5" width="1" height="1" fill="#555"/>
<rect x="801" y="5" width="1" height="1" fill="#555"/>
<rect x="803" y="5" width="1" height="1" fill="#555"/>
<rect x="805" y="5" width="1" height="1" fill="#555"/>
<rect x="807" y="5" width="1" height="1" fill="#555"/>
<rect x="809" y="5" width="1" height="1" fill="#555"/>
<rect x="811" y="5" width="1" height="1" fill="#555"/>
<rect x="799" y="9" width="1" height="1" fill="#555"/>
<rect x="801" y="9" width="1" height="1" fill="#555"/>
<rect x="803" y="9" width="1" height="1" fill="#555"/>
<rect x="805" y="9" width="1" height="1" fill="#555"/>
<rect x="807" y="9" width="1" height="1" fill="#555"/>
<rect x="809" y="9" width="1" height="1" fill="#555"/>
<rect x="811" y="9" width="1" height="1" fill="#555"/>
<rect x="799" y="13" width="1" height="1" fill="#555"/>
<rect x="801" y="13" width="1" height="1" fill="#555"/>
<rect x="803" y="13" width="1" height="1" fill="#555"/>
<rect x="805" y="13" width="1" height="1" fill="#555"/>
<rect x="807" y="13" width="1" height="1" fill="#555"/>
<rect x="809" y="13" width="1" height="1" fill="#555"/>
<rect x="811" y="13" width="1" height="1" fill="#555"/>
<text x="809" y="17.5" font-size="7" font-weight="bold" fill="#444">F</text>
<text x="829.5" y="14" font-size="12" fill="#555" textLength="8" lengthAdjust="spacingAndGlyphs">A</text>
<rect x="855" y="2" width="1" height="1" fill="#555"/>
<rect x="855" y="16" width="1" height="1" fill="#555"/>
<rect x="857" y="2" width="1" height="1" fill="#555"/>
<rect x="857" y="16" width="1" height="1" fill="#555"/>
<rect x="859" y="2" width="1" height="1" fill="#555"/>
<rect x="859" y="16" width="1" height="1" fill="#555"/>
<rect x="861" y="2" width="1" height="1" fill="#555"/>
<rect x="861" y="16" width="1" height="1" fill="#555"/>
<rect x="863" y="2" width="1" height="1" fill="#555"/>
<rect x="863" y="16" width="1" height="1" fill="#555"/>
<rect x="865" y="2" width="1" height="1" fill="#555"/>
<rect x="865" y="16" width="1" height="1" fill="#555"/>
<rect x="867" y="2" width="1" height="1" fill="#555"/>
<rect x="867" y="16" width="1" height="1" fill="#555"/>
<rect x="855" y="2" width="1" height="1" fill="#555"/>
<rect x="868" y="2" width="1" height="1" fill="#555"/>
<rect x="855" y="4" width="1" height="1" fill="#555"/>
<rect x="868" y="4" width="1" height="1" fill="#555"/>
<rect x="855" y="6" width="1" height="1" fill="#555"/>
<rect x="868" y="6" width="1" height="1" fill="#555"/>
<rect x="855" y="8" width="1" height="1" fill="#555"/>
<rect x="868" y="8" width="1" height="1" fill="#555"/>
<rect x="855" y="10" width="1" height="1" fill="#555"/>
<rect x="868" y="10" width="1" height="1" fill="#555"/>
<rect x="855" y="12" width="1" height="1" fill="#555"/>
<rect x="868" y="12" width="1" height="1" fill="#555"/>
<rect x="855" y="14" width="1" height="1" fill="#555"/>
<rect x="868" y="14" width="1" height="1" fill="#555"/>
<rect x="855" y="16" width="1" height="1" fill="#555"/>
<rect x="868" y="16" width="1" height="1" fill="#555"/>
<text x="857.5" y="14" font-size="11" font-weight="bold" fill="#555">T</text>
<g shape-rendering="geometricPrecision">
<path d="M883,7.2 L886.4,3 L889.9,7.2 Z" fill="#505050"/>
<path d="M890,11.2 L896.9,11.2 L893.4,15.9 Z" fill="#505050"/>
<path d="M885.3,10.3 L887.5,12.6 L891.8,7.6" fill="none" stroke="#505050" stroke-width="1.2"/>
</g>
<text x="930.8" y="13" font-size="10" fill="#333" textLength="12.2" lengthAdjust="spacingAndGlyphs">M1</text>
<text x="958.4" y="13" font-size="10" fill="#333" textLength="12.5" lengthAdjust="spacingAndGlyphs">M5</text>
<text x="984.7" y="13" font-size="10" fill="#333" textLength="17.5" lengthAdjust="spacingAndGlyphs">M15</text>
<text x="1012.5" y="13" font-size="10" fill="#333" textLength="17.7" lengthAdjust="spacingAndGlyphs">M30</text>
<text x="1043.8" y="13" font-size="10" fill="#333" textLength="11.2" lengthAdjust="spacingAndGlyphs">H1</text>
<text x="1070.4" y="13" font-size="10" fill="#333" textLength="12.6" lengthAdjust="spacingAndGlyphs">H4</text>
<text x="1099.6" y="13" font-size="10" fill="#333" textLength="11.6" lengthAdjust="spacingAndGlyphs">D1</text>
<text x="1127.2" y="13" font-size="10" fill="#333" textLength="14.1" lengthAdjust="spacingAndGlyphs">W1</text>
<text x="1153.8" y="13" font-size="10" fill="#333" textLength="14.7" lengthAdjust="spacingAndGlyphs">MN</text>
<g shape-rendering="geometricPrecision">
<circle cx="1646.6" cy="6.2" r="3.9" fill="#fff" stroke="#2a66cc" stroke-width="1.5"/>
<path d="M1644,9.2 L1639.6,13.8" stroke="#2a66cc" stroke-width="2.6" stroke-linecap="round"/>
<path d="M1664,11 c0,-4 9,-5.5 11,-1 c1,3 -3,5 -7,5 l-3,2.5 l0.5,-3 c-1.5,-0.8 -1.5,-2 -1.5,-3.5 z" fill="#e2e4ec" stroke="#a8a8a8" stroke-width="0.8"/>
<circle cx="1677.5" cy="6.4" r="8.2" fill="#d83a22"/>
<text x="1677.5" y="10.5" font-size="11" font-weight="bold" fill="#fff" text-anchor="middle">1</text>
</g>
</svg>
</body></html>
